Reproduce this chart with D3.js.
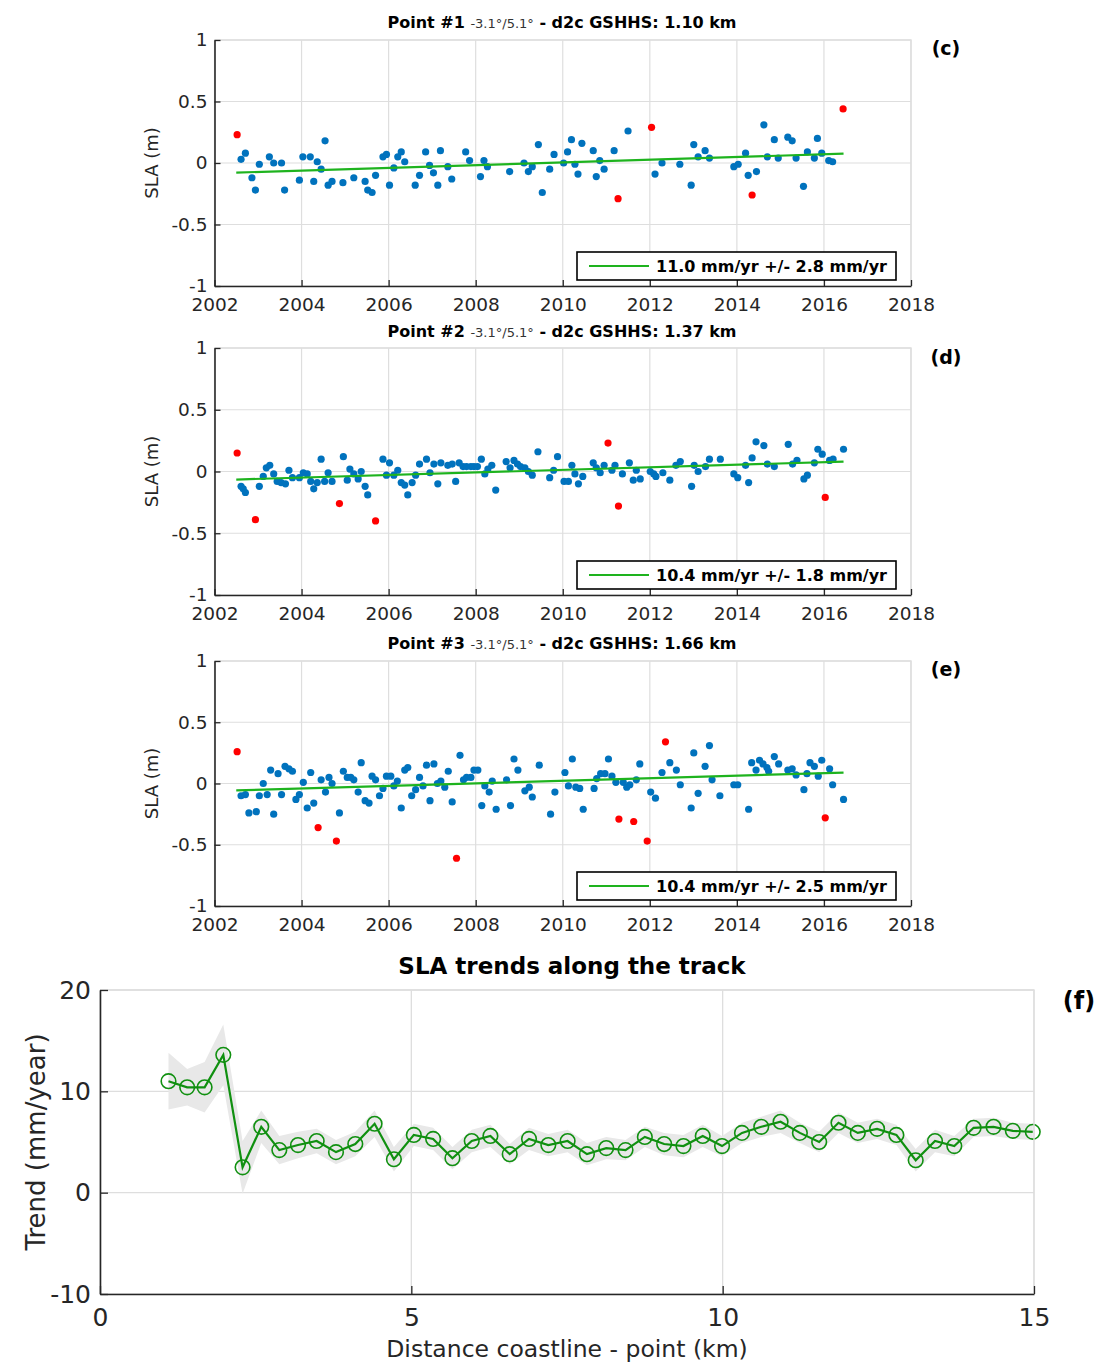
<!DOCTYPE html>
<html>
<head>
<meta charset="utf-8">
<script src="https://cdn.jsdelivr.net/npm/d3@7"></script>
<style>
  html, body { margin: 0; padding: 0; background: #fff; }
  svg { display: block; font-family: "DejaVu Sans", sans-serif; }
</style>
</head>
<body>
<svg id="chart" width="1101" height="1364"></svg>
<script>
// ---------------- DATA ----------------
const yearTicks = [2002, 2004, 2006, 2008, 2010, 2012, 2014, 2016, 2018];
const slaTicks = [-1, -0.5, 0, 0.5, 1];

// Panel (c) - Point #1
const c_year = [2002.61,2002.71,2002.86,2002.94,2003.03,2003.26,2003.36,2003.54,2003.61,2003.95,2004.03,2004.20,2004.28,2004.36,2004.45,2004.54,2004.61,2004.70,2004.95,2005.20,2005.46,2005.52,2005.62,2005.70,2005.87,2005.95,2006.02,2006.12,2006.21,2006.29,2006.37,2006.61,2006.71,2006.85,2006.94,2007.03,2007.13,2007.19,2007.36,2007.45,2007.77,2007.86,2008.11,2008.19,2008.27,2008.78,2009.11,2009.21,2009.30,2009.44,2009.53,2009.70,2009.80,2010.02,2010.11,2010.20,2010.28,2010.35,2010.44,2010.70,2010.77,2010.85,2010.95,2011.18,2011.50,2012.12,2012.28,2012.69,2012.95,2013.01,2013.11,2013.27,2013.37,2013.93,2014.03,2014.20,2014.26,2014.45,2014.62,2014.70,2014.86,2014.95,2015.17,2015.27,2015.36,2015.53,2015.62,2015.78,2015.85,2015.95,2016.11,2016.20];
const c_sla = [0.03,0.08,-0.12,-0.22,-0.01,0.05,0.00,0.00,-0.22,-0.14,0.05,0.05,-0.15,0.01,-0.05,0.18,-0.18,-0.15,-0.16,-0.12,-0.15,-0.22,-0.24,-0.10,0.05,0.07,-0.18,-0.04,0.05,0.09,0.01,-0.18,-0.10,0.09,-0.02,-0.08,-0.18,0.10,-0.03,-0.13,0.09,0.02,-0.11,0.02,-0.03,-0.07,0.00,-0.07,-0.03,0.15,-0.24,-0.05,0.07,0.00,0.09,0.19,-0.01,-0.09,0.16,0.10,-0.11,0.02,-0.05,0.10,0.26,-0.09,0.00,-0.01,-0.18,0.15,0.05,0.10,0.04,-0.03,-0.01,0.08,-0.10,-0.07,0.31,0.05,0.19,0.04,0.21,0.18,0.04,-0.19,0.09,0.04,0.20,0.08,0.02,0.01];
const c_outYear = [2002.52, 2011.27, 2012.04, 2014.35, 2016.44];
const c_outSla  = [0.23, -0.29, 0.29, -0.26, 0.44];
const c_trend = { start: 2002.5, end: 2016.45, startValue: -0.078, rate: 11.0, err: 2.8 };

// Panel (d) - Point #2
const d_year = [2002.61,2002.66,2002.71,2003.03,2003.12,2003.19,2003.27,2003.36,2003.44,2003.53,2003.63,2003.71,2003.79,2003.95,2004.04,2004.13,2004.21,2004.28,2004.36,2004.45,2004.53,2004.61,2004.70,2004.96,2005.05,2005.11,2005.20,2005.30,2005.37,2005.46,2005.52,2005.87,2005.95,2006.02,2006.12,2006.21,2006.29,2006.37,2006.44,2006.54,2006.62,2006.71,2006.87,2006.95,2007.04,2007.13,2007.20,2007.36,2007.46,2007.54,2007.62,2007.71,2007.79,2007.89,2007.96,2008.04,2008.13,2008.21,2008.28,2008.37,2008.46,2008.70,2008.79,2008.88,2008.96,2009.03,2009.13,2009.21,2009.30,2009.43,2009.70,2009.79,2009.88,2010.03,2010.13,2010.21,2010.28,2010.36,2010.46,2010.70,2010.77,2010.86,2010.95,2011.13,2011.20,2011.37,2011.53,2011.62,2011.69,2011.78,2012.01,2012.09,2012.14,2012.30,2012.46,2012.60,2012.70,2012.96,2013.02,2013.11,2013.28,2013.37,2013.62,2013.93,2014.02,2014.20,2014.27,2014.35,2014.44,2014.62,2014.70,2014.86,2015.18,2015.28,2015.38,2015.54,2015.62,2015.78,2015.86,2015.96,2016.13,2016.21,2016.45];
const d_sla = [-0.12,-0.14,-0.17,-0.12,-0.04,0.03,0.05,-0.02,-0.08,-0.09,-0.10,0.01,-0.05,-0.05,-0.01,-0.02,-0.08,-0.14,-0.09,0.10,-0.08,-0.01,-0.08,0.12,-0.07,0.02,-0.02,-0.06,0.00,-0.12,-0.19,0.10,-0.03,0.07,-0.03,0.01,-0.09,-0.11,-0.19,-0.09,-0.03,0.06,0.10,-0.01,0.06,-0.10,0.07,0.05,0.06,-0.08,0.07,0.04,0.04,0.04,0.04,0.04,0.10,-0.02,0.02,0.05,-0.15,0.08,0.03,0.09,0.06,0.04,0.03,0.00,-0.03,0.16,-0.05,0.01,0.12,-0.08,-0.08,0.05,-0.02,-0.10,-0.04,0.07,0.03,-0.01,0.05,0.01,0.05,-0.02,0.07,-0.07,0.01,-0.06,0.00,-0.02,-0.04,-0.01,-0.07,0.05,0.08,-0.12,0.05,0.00,0.04,0.10,0.10,-0.02,-0.05,0.05,-0.09,0.11,0.24,0.21,0.06,0.04,0.22,0.06,0.09,-0.06,-0.03,0.07,0.18,0.14,0.09,0.10,0.18];
const d_outYear = [2002.52, 2002.94, 2004.87, 2005.70, 2011.04, 2011.28, 2016.03];
const d_outSla  = [0.15, -0.39, -0.26, -0.40, 0.23, -0.28, -0.21];
const d_trend = { start: 2002.5, end: 2016.45, startValue: -0.065, rate: 10.4, err: 1.8 };

// Panel (e) - Point #3
const e_year = [2002.61,2002.71,2002.79,2002.96,2003.03,2003.12,2003.21,2003.29,2003.36,2003.46,2003.54,2003.62,2003.71,2003.79,2003.87,2003.95,2004.04,2004.13,2004.21,2004.28,2004.45,2004.55,2004.63,2004.70,2004.87,2004.96,2005.05,2005.13,2005.20,2005.30,2005.37,2005.46,2005.55,2005.62,2005.70,2005.79,2005.87,2005.95,2006.05,2006.12,2006.20,2006.29,2006.37,2006.44,2006.53,2006.62,2006.71,2006.79,2006.87,2006.95,2007.04,2007.12,2007.20,2007.29,2007.37,2007.46,2007.64,2007.72,2007.79,2007.89,2007.96,2008.05,2008.14,2008.21,2008.31,2008.38,2008.47,2008.71,2008.80,2008.88,2008.97,2009.13,2009.23,2009.30,2009.46,2009.72,2009.82,2010.05,2010.13,2010.22,2010.30,2010.39,2010.47,2010.72,2010.78,2010.87,2010.97,2011.05,2011.13,2011.22,2011.39,2011.47,2011.54,2011.69,2011.77,2012.02,2012.13,2012.28,2012.46,2012.61,2012.70,2012.95,2013.01,2013.11,2013.27,2013.37,2013.43,2013.61,2013.93,2014.02,2014.27,2014.34,2014.44,2014.52,2014.60,2014.69,2014.73,2014.86,2014.96,2015.17,2015.27,2015.36,2015.54,2015.61,2015.68,2015.78,2015.87,2015.95,2016.13,2016.20,2016.45];
const e_sla = [-0.10,-0.09,-0.24,-0.23,-0.10,0.00,-0.09,0.11,-0.25,0.08,-0.09,0.14,0.12,0.10,-0.13,-0.09,0.01,-0.20,0.09,-0.16,0.03,-0.07,0.05,0.00,-0.24,0.10,0.05,0.05,0.03,-0.07,0.17,-0.14,-0.16,0.06,0.03,-0.10,-0.04,0.06,0.06,-0.02,0.02,-0.20,0.11,0.13,-0.10,-0.05,0.05,-0.02,0.15,-0.14,0.16,0.00,0.02,-0.03,0.10,-0.15,0.23,0.03,0.05,0.05,0.11,0.11,-0.18,-0.02,-0.07,0.02,-0.21,0.03,-0.18,0.20,0.11,-0.06,-0.03,-0.11,0.15,-0.25,-0.07,0.09,-0.02,0.20,-0.03,-0.04,-0.21,-0.04,0.04,0.08,0.08,0.20,0.06,0.01,0.01,-0.03,-0.01,0.03,0.16,-0.07,-0.12,0.09,0.17,0.11,-0.01,-0.20,0.25,-0.08,0.14,0.31,0.03,-0.10,-0.01,-0.01,-0.21,0.17,0.11,0.19,0.16,0.13,0.10,0.22,0.16,0.11,0.12,0.07,-0.05,0.08,0.17,0.14,0.06,0.19,0.12,-0.01,-0.13];
const e_outYear = [2002.52, 2004.38, 2004.80, 2007.56, 2011.29, 2011.63, 2011.94, 2012.36, 2016.03];
const e_outSla  = [0.26, -0.36, -0.47, -0.61, -0.29, -0.31, -0.47, 0.34, -0.28];
const e_trend = { start: 2002.5, end: 2016.45, startValue: -0.056, rate: 10.4, err: 2.5 };

// Panel (f) - trends along the track
const distTicks = [0, 5, 10, 15];
const trendTicks = [-10, 0, 10, 20];
const f_dist = [1.10,1.40,1.68,1.98,2.29,2.59,2.88,3.18,3.48,3.79,4.10,4.41,4.72,5.04,5.35,5.66,5.97,6.27,6.58,6.89,7.20,7.51,7.82,8.13,8.44,8.75,9.06,9.37,9.68,9.99,10.31,10.62,10.93,11.24,11.55,11.86,12.17,12.48,12.79,13.10,13.41,13.72,14.03,14.35,14.66,14.98];
const f_trend = [11.0,10.4,10.4,13.6,2.5,6.5,4.2,4.7,5.1,4.0,4.8,6.8,3.3,5.7,5.3,3.4,5.1,5.6,3.8,5.3,4.7,5.1,3.8,4.4,4.2,5.5,4.8,4.6,5.6,4.6,5.9,6.5,7.0,5.9,5.0,6.9,5.9,6.3,5.7,3.2,5.1,4.6,6.4,6.5,6.1,6.0];
const f_err = [2.8,1.8,2.5,3.0,2.6,1.6,1.4,1.3,1.2,1.2,1.2,1.3,1.2,1.1,1.1,1.1,1.1,1.1,1.0,1.1,1.1,1.1,1.1,1.1,1.0,1.0,1.1,1.1,1.1,1.0,1.0,1.0,1.1,1.0,1.0,1.0,1.0,1.0,1.0,1.1,1.1,1.0,0.9,0.9,0.8,0.8];

// ---------------- DRAWING ----------------
const svg = d3.select("#chart");
svg.append("rect").attr("width", 1101).attr("height", 1364).attr("fill", "#fff");

const AX = "#262626", GRID = "#dedede";
const BLUE = "#0072bd", RED = "#ff0000", TGREEN = "#1eb31e", DGREEN = "#109010";
const fmtNum = d => String(d); // plain hyphen-minus like the reference

const panels = [
  { pt: "Point #1", km: "1.10", tag: "(c)", top: 40, bottom: 286, titleY: 28, tagY: 55,
    year: c_year, sla: c_sla, oy: c_outYear, os: c_outSla, tr: c_trend },
  { pt: "Point #2", km: "1.37", tag: "(d)", top: 348, bottom: 595, titleY: 337, tagY: 364,
    year: d_year, sla: d_sla, oy: d_outYear, os: d_outSla, tr: d_trend },
  { pt: "Point #3", km: "1.66", tag: "(e)", top: 661, bottom: 906, titleY: 649, tagY: 676,
    year: e_year, sla: e_sla, oy: e_outYear, os: e_outSla, tr: e_trend }
];

function styleAxis(g, fs) {
  g.select(".domain").attr("stroke", AX).attr("stroke-width", 1.6);
  g.selectAll(".tick line").attr("stroke", AX).attr("stroke-width", 1.3);
  g.selectAll(".tick text").attr("fill", AX).attr("font-size", fs)
    .attr("font-family", "DejaVu Sans, sans-serif");
}

panels.forEach(p => {
  const L = 214.5, R = 911;
  const x = d3.scaleLinear().domain([2002, 2018]).range([L, R]);
  const y = d3.scaleLinear().domain([-1, 1]).range([p.bottom, p.top]);
  const g = svg.append("g");

  // grid
  g.selectAll(null).data(yearTicks).enter().append("line")
    .attr("x1", d => x(d)).attr("x2", d => x(d)).attr("y1", p.top).attr("y2", p.bottom)
    .attr("stroke", GRID).attr("stroke-width", 1.2);
  g.selectAll(null).data(slaTicks).enter().append("line")
    .attr("x1", L).attr("x2", R).attr("y1", d => y(d)).attr("y2", d => y(d))
    .attr("stroke", GRID).attr("stroke-width", 1.2);

  const tr = p.tr;
  const endValue = tr.startValue + tr.rate / 1000 * (tr.end - tr.start);

  // points
  g.selectAll(null).data(p.year.map((d, i) => [d, p.sla[i]])).enter().append("circle")
    .attr("cx", d => x(d[0])).attr("cy", d => y(d[1])).attr("r", 3.6).attr("fill", BLUE);
  g.selectAll(null).data(p.oy.map((d, i) => [d, p.os[i]])).enter().append("circle")
    .attr("cx", d => x(d[0])).attr("cy", d => y(d[1])).attr("r", 3.6).attr("fill", RED);

  // trend line
  g.append("line")
    .attr("x1", x(tr.start)).attr("y1", y(tr.startValue))
    .attr("x2", x(tr.end)).attr("y2", y(endValue))
    .attr("stroke", TGREEN).attr("stroke-width", 2.2);

  // box top/right
  g.append("path").attr("d", `M${L},${p.top}H${R}V${p.bottom}`)
    .attr("fill", "none").attr("stroke", GRID).attr("stroke-width", 1.4);

  // axes
  const xa = g.append("g").attr("transform", `translate(0,${p.bottom})`)
    .call(d3.axisBottom(x).tickValues(yearTicks).tickFormat(d3.format("d"))
      .tickSizeInner(-6).tickSizeOuter(0).tickPadding(12));
  styleAxis(xa, 18.5);
  xa.selectAll(".tick text").attr("dy", "0.71em");
  const ya = g.append("g").attr("transform", `translate(${L},0)`)
    .call(d3.axisLeft(y).tickValues(slaTicks).tickFormat(fmtNum)
      .tickSizeInner(-6).tickSizeOuter(0).tickPadding(7));
  styleAxis(ya, 18.5);

  // y label
  g.append("text").attr("transform", `translate(158,${(p.top + p.bottom) / 2}) rotate(-90)`)
    .attr("text-anchor", "middle").attr("font-size", 18).attr("fill", AX).text("SLA (m)");

  // title
  const t = g.append("text").attr("x", 562).attr("y", p.titleY)
    .attr("text-anchor", "middle").attr("fill", "#000").attr("font-size", 16);
  t.append("tspan").attr("font-weight", "bold").text(p.pt + " ");
  t.append("tspan").attr("font-size", 13).attr("fill", "#333").text("-3.1°/5.1°");
  t.append("tspan").attr("font-weight", "bold").text(" - d2c GSHHS: " + p.km + " km");

  // tag
  g.append("text").attr("x", 946).attr("y", p.tagY).attr("text-anchor", "middle")
    .attr("font-weight", "bold").attr("font-size", 19).attr("fill", "#000").text(p.tag);

  // legend
  const lb = p.bottom - 6, lt = lb - 28;
  g.append("rect").attr("x", 577).attr("y", lt).attr("width", 319).attr("height", 28)
    .attr("fill", "#fff").attr("stroke", "#000").attr("stroke-width", 1.6);
  g.append("line").attr("x1", 589).attr("x2", 649).attr("y1", lt + 14).attr("y2", lt + 14)
    .attr("stroke", TGREEN).attr("stroke-width", 2.2);
  g.append("text").attr("x", 656).attr("y", lt + 20).attr("font-weight", "bold")
    .attr("font-size", 16).attr("fill", "#000")
    .text(`${tr.rate.toFixed(1)} mm/yr +/- ${tr.err.toFixed(1)} mm/yr`);
});

// ---------- Panel (f) ----------
(function () {
  const L = 100, R = 1034, T = 990, B = 1294;
  const x = d3.scaleLinear().domain([0, 15]).range([L, R]);
  const y = d3.scaleLinear().domain([-10, 20]).range([B, T]);
  const g = svg.append("g");

  g.selectAll(null).data(distTicks).enter().append("line")
    .attr("x1", d => x(d)).attr("x2", d => x(d)).attr("y1", T).attr("y2", B)
    .attr("stroke", GRID).attr("stroke-width", 1.3);
  g.selectAll(null).data(trendTicks).enter().append("line")
    .attr("x1", L).attr("x2", R).attr("y1", d => y(d)).attr("y2", d => y(d))
    .attr("stroke", GRID).attr("stroke-width", 1.3);

  const pts = f_dist.map((d, i) => ({ d, v: f_trend[i], e: f_err[i] }));
  g.append("path").datum(pts)
    .attr("d", d3.area().x(p => x(p.d)).y0(p => y(p.v - p.e)).y1(p => y(p.v + p.e)))
    .attr("fill", "#e8e8e8");

  g.append("path").datum(pts)
    .attr("d", d3.line().x(p => x(p.d)).y(p => y(p.v)))
    .attr("fill", "none").attr("stroke", DGREEN).attr("stroke-width", 2.2);
  g.selectAll(null).data(pts).enter().append("circle")
    .attr("cx", p => x(p.d)).attr("cy", p => y(p.v)).attr("r", 7.3)
    .attr("fill", "none").attr("stroke", DGREEN).attr("stroke-width", 1.6);

  g.append("path").attr("d", `M${L},${T}H${R}V${B}`)
    .attr("fill", "none").attr("stroke", GRID).attr("stroke-width", 1.4);

  const xa = g.append("g").attr("transform", `translate(0,${B})`)
    .call(d3.axisBottom(x).tickValues(distTicks).tickFormat(fmtNum)
      .tickSizeInner(-8).tickSizeOuter(0).tickPadding(14));
  styleAxis(xa, 25);
  xa.selectAll(".tick text").attr("dy", "0.71em");
  const ya = g.append("g").attr("transform", `translate(${L},0)`)
    .call(d3.axisLeft(y).tickValues(trendTicks).tickFormat(fmtNum)
      .tickSizeInner(-8).tickSizeOuter(0).tickPadding(9));
  styleAxis(ya, 25);

  g.append("text").attr("transform", `translate(45,${(T + B) / 2}) rotate(-90)`)
    .attr("text-anchor", "middle").attr("font-size", 26).attr("fill", AX).text("Trend (mm/year)");
  g.append("text").attr("x", (L + R) / 2).attr("y", 1357).attr("text-anchor", "middle")
    .attr("font-size", 23.5).attr("fill", AX).text("Distance coastline - point (km)");
  g.append("text").attr("x", 572).attr("y", 974).attr("text-anchor", "middle")
    .attr("font-weight", "bold").attr("font-size", 23).attr("fill", "#000")
    .text("SLA trends along the track");
  g.append("text").attr("x", 1079).attr("y", 1009).attr("text-anchor", "middle")
    .attr("font-weight", "bold").attr("font-size", 24).attr("fill", "#000").text("(f)");
})();
</script>
</body>
</html>
